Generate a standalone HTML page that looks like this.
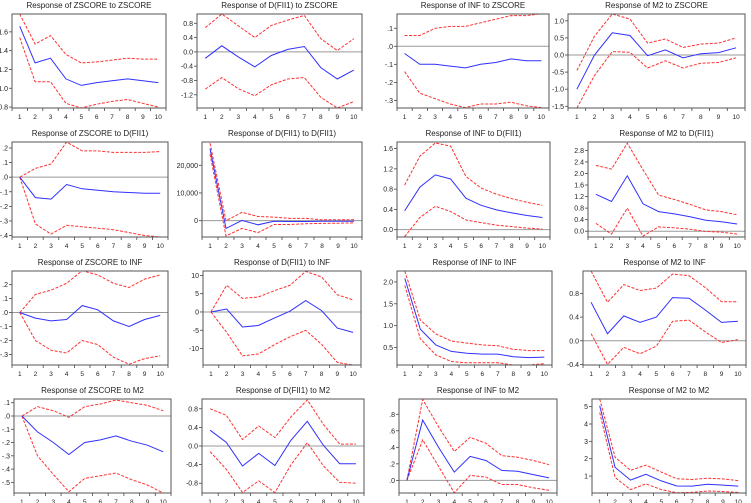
<!DOCTYPE html>
<html><head><meta charset="utf-8"><style>
html,body{margin:0;padding:0;background:#fff;}
svg{display:block;font-family:"Liberation Sans",sans-serif;}
</style></head><body>
<svg id="c" width="751" height="503" viewBox="0 0 751 503"></svg>
<script>
const periods=[1,2,3,4,5,6,7,8,9,10];
const p11_mid=[1.66,1.27,1.32,1.10,1.03,1.06,1.08,1.10,1.08,1.06];
const p11_up=[1.79,1.47,1.56,1.36,1.27,1.28,1.30,1.32,1.31,1.31];
const p11_lo=[1.54,1.07,1.07,0.84,0.79,0.83,0.86,0.88,0.84,0.80];
const p12_mid=[-0.18,0.17,-0.14,-0.42,-0.10,0.07,0.15,-0.44,-0.76,-0.51];
const p12_up=[0.68,1.06,0.73,0.40,0.74,0.89,1.02,0.37,0.04,0.37];
const p12_lo=[-1.04,-0.72,-1.03,-1.23,-0.92,-0.76,-0.72,-1.27,-1.57,-1.39];
const p13_mid=[-0.04,-0.10,-0.10,-0.11,-0.12,-0.10,-0.09,-0.07,-0.08,-0.08];
const p13_up=[0.06,0.06,0.10,0.11,0.11,0.13,0.15,0.17,0.17,0.18];
const p13_lo=[-0.14,-0.26,-0.29,-0.32,-0.34,-0.32,-0.32,-0.31,-0.33,-0.34];
const p14_mid=[-1.0,0.0,0.65,0.57,-0.02,0.15,-0.08,0.04,0.07,0.21];
const p14_up=[-0.45,0.55,1.2,1.05,0.35,0.47,0.22,0.32,0.35,0.50];
const p14_lo=[-1.55,-0.60,0.10,0.08,-0.38,-0.17,-0.38,-0.24,-0.22,-0.08];
const p21_mid=[0,-0.14,-0.15,-0.05,-0.08,-0.09,-0.10,-0.105,-0.11,-0.11];
const p21_up=[0,0.06,0.09,0.24,0.18,0.18,0.17,0.17,0.17,0.175];
const p21_lo=[0,-0.32,-0.39,-0.33,-0.34,-0.35,-0.36,-0.38,-0.40,-0.41];
const p22_mid=[26000,-2800,100,-1500,-200,-300,-300,-200,-200,-200];
const p22_up=[28000,0,3000,1500,1300,800,800,300,300,300];
const p22_lo=[24000,-5500,-2800,-4300,-1400,-1400,-1100,-1000,-900,-800];
const p23_mid=[0.37,0.84,1.08,1.00,0.62,0.48,0.39,0.33,0.28,0.24];
const p23_up=[0.88,1.45,1.71,1.65,1.05,0.82,0.70,0.61,0.54,0.48];
const p23_lo=[-0.14,0.24,0.46,0.36,0.19,0.14,0.09,0.06,0.03,0.01];
const p24_mid=[1.28,1.03,1.92,0.95,0.68,0.60,0.50,0.38,0.33,0.25];
const p24_up=[2.28,2.15,3.05,2.13,1.25,1.10,0.93,0.74,0.68,0.57];
const p24_lo=[0.27,-0.10,0.80,-0.17,0.15,0.12,0.07,-0.01,-0.03,-0.10];
const p31_mid=[0,-0.04,-0.06,-0.05,0.05,0.02,-0.06,-0.10,-0.05,-0.02];
const p31_up=[0,0.13,0.16,0.21,0.30,0.27,0.21,0.18,0.24,0.27];
const p31_lo=[0,-0.20,-0.27,-0.29,-0.20,-0.23,-0.32,-0.37,-0.33,-0.31];
const p32_mid=[0,0.8,-4.1,-3.7,-1.7,0.2,3.1,0.4,-4.4,-5.6];
const p32_up=[0,7.3,3.7,4.1,5.8,7.3,11.1,9.6,4.7,3.3];
const p32_lo=[0,-5.6,-12.0,-11.5,-9.0,-6.8,-5.0,-8.8,-13.8,-14.5];
const p33_mid=[2.08,0.92,0.56,0.41,0.37,0.35,0.35,0.29,0.27,0.28];
const p33_up=[2.25,1.13,0.81,0.65,0.60,0.56,0.54,0.46,0.43,0.43];
const p33_lo=[1.92,0.70,0.33,0.18,0.15,0.15,0.15,0.10,0.10,0.13];
const p34_mid=[0.65,0.12,0.42,0.31,0.40,0.73,0.72,0.52,0.31,0.33];
const p34_up=[1.18,0.65,0.95,0.85,0.89,1.13,1.10,0.90,0.66,0.66];
const p34_lo=[0.12,-0.40,-0.11,-0.22,-0.09,0.33,0.35,0.15,-0.03,0.02];
const p41_mid=[0,-0.12,-0.20,-0.29,-0.20,-0.18,-0.15,-0.19,-0.22,-0.27];
const p41_up=[0,0.07,0.04,-0.01,0.07,0.09,0.12,0.10,0.08,0.04];
const p41_lo=[0,-0.30,-0.44,-0.57,-0.47,-0.45,-0.43,-0.48,-0.52,-0.58];
const p42_mid=[0.34,0.08,-0.43,-0.16,-0.42,0.13,0.53,0.01,-0.38,-0.38];
const p42_up=[0.80,0.66,0.14,0.43,0.18,0.63,0.99,0.46,0.04,0.04];
const p42_lo=[-0.12,-0.50,-1.00,-0.75,-1.00,-0.40,0.07,-0.43,-0.78,-0.80];
const p43_mid=[0,0.73,0.40,0.10,0.29,0.24,0.12,0.11,0.07,0.03];
const p43_up=[0,0.98,0.65,0.35,0.52,0.45,0.30,0.28,0.24,0.19];
const p43_lo=[0,0.49,0.17,-0.15,0.06,0.04,-0.05,-0.05,-0.09,-0.12];
const p44_mid=[5.05,1.50,0.77,1.10,0.72,0.43,0.42,0.53,0.48,0.42];
const p44_up=[5.44,2.08,1.33,1.63,1.23,0.85,0.80,0.88,0.84,0.74];
const p44_lo=[4.66,0.92,0.22,0.55,0.22,0.04,0.06,0.14,0.11,0.06];

const t11=[0.8,1.0,1.2,1.4,1.6], l11=["0.8","1.0","1.2","1.4","1.6"];
const t12=[-1.2,-0.8,-0.4,0,0.4,0.8], l12=["-1.2","-0.8","-0.4","0.0","0.4","0.8"];
const t13=[-0.3,-0.2,-0.1,0,0.1], l13=["-.3","-.2","-.1",".0",".1"];
const t14=[-1.5,-1,-0.5,0,0.5,1], l14=["-1.5","-1.0","-0.5","0.0","0.5","1.0"];
const t21=[-0.4,-0.3,-0.2,-0.1,0,0.1,0.2], l21=["-.4","-.3","-.2","-.1",".0",".1",".2"];
const t22=[0,10000,20000], l22=["0","10,000","20,000"];
const t23=[0,0.4,0.8,1.2,1.6], l23=["0.0","0.4","0.8","1.2","1.6"];
const t24=[0,0.4,0.8,1.2,1.6,2.0,2.4,2.8], l24=["0.0","0.4","0.8","1.2","1.6","2.0","2.4","2.8"];
const t31=[-0.3,-0.2,-0.1,0,0.1,0.2], l31=["-.3","-.2","-.1",".0",".1",".2"];
const t32=[-10,-5,0,5,10], l32=["-10","-5","0","5","10"];
const t33=[0.5,1,1.5,2], l33=["0.5","1.0","1.5","2.0"];
const t34=[-0.4,0,0.4,0.8], l34=["-0.4","0.0","0.4","0.8"];
const t41=[-0.5,-0.4,-0.3,-0.2,-0.1,0,0.1], l41=["-.5","-.4","-.3","-.2","-.1",".0",".1"];
const t42=[-0.8,-0.4,0,0.4,0.8], l42=["-0.8","-0.4","0.0","0.4","0.8"];
const t43=[0,0.2,0.4,0.6,0.8], l43=[".0",".2",".4",".6",".8"];
const t44=[1,2,3,4,5], l44=["1","2","3","4","5"];

const panels=[
 {n:"zscore-to-zscore",t:"Response of ZSCORE to ZSCORE",x0:12,x1:166,y0:14,y1:108,lo:0.79,hi:1.79,m:p11_mid,u:p11_up,d:p11_lo,tk:t11,tl:l11,zero:false},
 {n:"dfii1-to-zscore",t:"Response of D(FII1) to ZSCORE",x0:197,x1:362,y0:14,y1:108,lo:-1.57,hi:1.06,m:p12_mid,u:p12_up,d:p12_lo,tk:t12,tl:l12,zero:true},
 {n:"inf-to-zscore",t:"Response of INF to ZSCORE",x0:397,x1:549,y0:14,y1:108,lo:-0.342,hi:0.179,m:p13_mid,u:p13_up,d:p13_lo,tk:t13,tl:l13,zero:true},
 {n:"m2-to-zscore",t:"Response of M2 to ZSCORE",x0:568,x1:745,y0:14,y1:108,lo:-1.55,hi:1.2,m:p14_mid,u:p14_up,d:p14_lo,tk:t14,tl:l14,zero:true},
 {n:"zscore-to-dfii1",t:"Response of ZSCORE to D(FII1)",x0:12,x1:168,y0:142,y1:237,lo:-0.41,hi:0.241,m:p21_mid,u:p21_up,d:p21_lo,tk:t21,tl:l21,zero:true},
 {n:"dfii1-to-dfii1",t:"Response of D(FII1) to D(FII1)",x0:202,x1:362,y0:142,y1:237,lo:-5900,hi:28400,m:p22_mid,u:p22_up,d:p22_lo,tk:t22,tl:l22,zero:true},
 {n:"inf-to-dfii1",t:"Response of INF to D(FII1)",x0:397,x1:550,y0:142,y1:237,lo:-0.145,hi:1.73,m:p23_mid,u:p23_up,d:p23_lo,tk:t23,tl:l23,zero:true},
 {n:"m2-to-dfii1",t:"Response of M2 to D(FII1)",x0:588,x1:745,y0:142,y1:237,lo:-0.2,hi:3.09,m:p24_mid,u:p24_up,d:p24_lo,tk:t24,tl:l24,zero:true},
 {n:"zscore-to-inf",t:"Response of ZSCORE to INF",x0:12,x1:168,y0:271,y1:365,lo:-0.376,hi:0.298,m:p31_mid,u:p31_up,d:p31_lo,tk:t31,tl:l31,zero:true},
 {n:"dfii1-to-inf",t:"Response of D(FII1) to INF",x0:203,x1:361,y0:271,y1:365,lo:-14.5,hi:11.2,m:p32_mid,u:p32_up,d:p32_lo,tk:t32,tl:l32,zero:true},
 {n:"inf-to-inf",t:"Response of INF to INF",x0:397,x1:552,y0:271,y1:365,lo:0.1,hi:2.25,m:p33_mid,u:p33_up,d:p33_lo,tk:t33,tl:l33,zero:false},
 {n:"m2-to-inf",t:"Response of M2 to INF",x0:583,x1:746,y0:271,y1:365,lo:-0.41,hi:1.18,m:p34_mid,u:p34_up,d:p34_lo,tk:t34,tl:l34,zero:true},
 {n:"zscore-to-m2",t:"Response of ZSCORE to M2",x0:14,x1:171,y0:399,y1:493,lo:-0.58,hi:0.128,m:p41_mid,u:p41_up,d:p41_lo,tk:t41,tl:l41,zero:true},
 {n:"dfii1-to-m2",t:"Response of D(FII1) to M2",x0:202,x1:364,y0:399,y1:493,lo:-1.01,hi:1.01,m:p42_mid,u:p42_up,d:p42_lo,tk:t42,tl:l42,zero:true},
 {n:"inf-to-m2",t:"Response of INF to M2",x0:399,x1:557,y0:399,y1:493,lo:-0.153,hi:0.985,m:p43_mid,u:p43_up,d:p43_lo,tk:t43,tl:l43,zero:true},
 {n:"m2-to-m2",t:"Response of M2 to M2",x0:592,x1:746,y0:399,y1:493,lo:0.025,hi:5.44,m:p44_mid,u:p44_up,d:p44_lo,tk:t44,tl:l44,zero:false}
];
const NS="http://www.w3.org/2000/svg";
const svg=document.getElementById('c');
function mk(tag,attrs,parent){const e=document.createElementNS(NS,tag);for(const k in attrs)e.setAttribute(k,attrs[k]);parent.appendChild(e);return e;}
panels.forEach(p=>{
 const g=mk('g',{},svg);
 
 
 const xs=v=>p.x0+(v-0.5)/10*(p.x1-p.x0);
 const ys=v=>p.y1-(v-p.lo)/(p.hi-p.lo)*(p.y1-p.y0);
 const title=mk('text',{x:(p.x0+p.x1)/2,y:p.y0-6,'font-size':'8','text-anchor':'middle',fill:'#222'},g);
 title.textContent=p.t;
 
 
 const clip='cl'+p.n;
 const cp=mk('clipPath',{id:clip},g);
 mk('rect',{x:p.x0,y:p.y0,width:p.x1-p.x0,height:p.y1-p.y0},cp);
 if(p.zero){const z=mk('line',{x1:p.x0,x2:p.x1,y1:ys(0),y2:ys(0),stroke:'#999','stroke-width':1},g);
  }
 p.tk.forEach((v,i)=>{
  const y=ys(v);
  mk('line',{x1:p.x0-3,x2:p.x0,y1:y,y2:y,stroke:'#444','stroke-width':0.8},g);
  const tx=mk('text',{x:p.x0-4,y:y+2.5,'font-size':'7','text-anchor':'end',fill:'#222'},g);
  tx.textContent=p.tl[i];
  
  
 });
 for(let k=0;k<=10;k++){const x=xs(k+0.5);mk('line',{x1:x,x2:x,y1:p.y1,y2:p.y1+3,stroke:'#444','stroke-width':0.8},g);}
 periods.forEach(v=>{
  const tx=mk('text',{x:xs(v),y:p.y1+11,'font-size':'6.5','text-anchor':'middle',fill:'#222'},g);
  tx.textContent=v;
  
  
 });
 const line=(arr,col,dash,name)=>{
  const pts=arr.map((v,i)=>xs(periods[i]).toFixed(1)+','+ys(v).toFixed(1)).join(' ');
  const pl=mk('polyline',{points:pts,fill:'none',stroke:col,'stroke-width':1,'clip-path':'url(#'+clip+')'},g);
  if(dash)pl.setAttribute('stroke-dasharray',dash);
  
  
 };
 line(p.u,'#ff3030','3,1.5','upper-band');
 line(p.d,'#ff3030','3,1.5','lower-band');
 line(p.m,'#3030ff',null,'response-line');
 const box=mk('rect',{x:p.x0,y:p.y0,width:p.x1-p.x0,height:p.y1-p.y0,fill:'none',stroke:'#555','stroke-width':1},g);
 
 
});
</script>
</body></html>
